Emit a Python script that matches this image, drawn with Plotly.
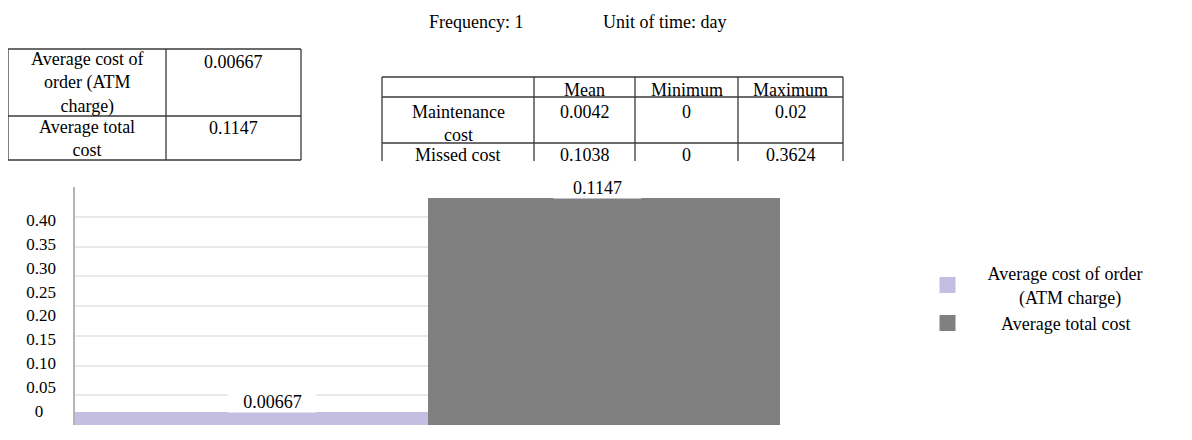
import plotly.graph_objects as go

# ---------------- data ----------------
categories = ["Average cost of order (ATM charge)", "Average total cost"]
legend_names = ["Average cost of order<br>\u00a0\u00a0\u00a0\u00a0\u00a0\u00a0\u00a0(ATM charge)",
                "\u00a0\u00a0\u00a0Average total cost"]
bar_values = [0.00667, 0.1147]
bar_labels = ["0.00667", "0.1147"]

y_tick_values = [0, 0.05, 0.10, 0.15, 0.20, 0.25, 0.30, 0.35, 0.40]
y_tick_labels = ["0\u2007\u2008", "0.05", "0.10", "0.15", "0.20", "0.25", "0.30", "0.35", "0.40"]

summary_rows = ["Average cost of<br>order (ATM<br>charge)", "Average total<br>cost"]
summary_values = ["0.00667", "0.1147"]

stats_header = ["", "Mean", "Minimum", "Maximum"]
stats_rows = ["Maintenance<br>cost", "Missed cost"]
stats_mean = ["0.0042", "0.1038"]
stats_min = ["0", "0"]
stats_max = ["0.02", "0.3624"]

header_texts = ["Frequency: 1", "Unit of time: day"]

# ---------------- style / layout geometry (screen pixels) ----------------
OFF = 8                      # default page margin of the html body
FW, FH = 1176, 424           # figure size so that figure + body margin fills the window
FONT = "Liberation Serif"
bar_colors = ["#c5bee3", "#808080"]
label_xshift = [21, -6]
line_col = "#3a3a3a"

# table 1 geometry
t1_cols = [8, 166, 301]
t1_rows = [49, 116, 160]
t1_text_y = [[83.4, 61.7], [138.8, 127.7]]
# table 2 geometry
t2_cols = [382, 534, 635, 738, 843]
t2_rows = [77, 97, 143]
t2_bottom = 161
t2_header_y = 89.5
t2_text_y = [[123, 112, 112, 112], [155, 155, 155, 155]]


def px_x(X):
    return (X - OFF) / FW


def px_y(Y):
    return (FH - (Y - OFF)) / FH


fig = go.Figure()

for cat, val, col in zip(categories, bar_values, bar_colors):
    fig.add_trace(go.Bar(x=[cat], y=[val], marker=dict(color=col, line=dict(width=0)),
                         showlegend=False, hoverinfo="skip"))

# legend entries (square swatches)
for name, col in zip(legend_names, bar_colors):
    fig.add_trace(go.Scatter(x=[None], y=[None], mode="markers", name=name,
                             marker=dict(symbol="square", size=16, color=col),
                             hoverinfo="skip"))

# helper trace that carries the labelled value axis
fig.add_trace(go.Scatter(x=categories, y=[None] * len(categories), yaxis="y2",
                         mode="markers", showlegend=False, hoverinfo="skip"))

# value labels on the bars
for cat, val, lab, dx in zip(categories, bar_values, bar_labels, label_xshift):
    fig.add_annotation(x=cat, y=val, xref="x", yref="y", text=lab, showarrow=False,
                       yanchor="bottom", xshift=dx, yshift=-1, bgcolor="white",
                       width=87, height=20, borderpad=0,
                       font=dict(family=FONT, size=18, color="black"))

text_font = dict(family=FONT, size=18, color="black")


def add_line(x0, y0, x1, y1):
    fig.add_shape(type="line", xref="paper", yref="paper",
                  x0=px_x(x0), y0=px_y(y0), x1=px_x(x1), y1=px_y(y1),
                  line=dict(color=line_col, width=1.3))


def add_cell_text(txt, xc, yc):
    fig.add_annotation(x=px_x(xc), y=px_y(yc), xref="paper", yref="paper", text=txt,
                       showarrow=False, xanchor="center", yanchor="middle", align="center",
                       font=text_font)


# ----- table 1 -----
for r in t1_rows:
    add_line(t1_cols[0], r, t1_cols[-1], r)
for c in t1_cols:
    add_line(c, t1_rows[0], c, t1_rows[-1])
t1_centers = [(a + b) / 2 for a, b in zip(t1_cols[:-1], t1_cols[1:])]
for i, (lab, val) in enumerate(zip(summary_rows, summary_values)):
    add_cell_text(lab, t1_centers[0], t1_text_y[i][0])
    add_cell_text(val, t1_centers[1], t1_text_y[i][1])

# ----- table 2 -----
for r in t2_rows:
    add_line(t2_cols[0], r, t2_cols[-1], r)
for c in t2_cols:
    add_line(c, t2_rows[0], c, t2_bottom)
t2_centers = [(a + b) / 2 for a, b in zip(t2_cols[:-1], t2_cols[1:])]
for h, xc in zip(stats_header, t2_centers):
    if h:
        add_cell_text(h, xc, t2_header_y)
for i in range(len(stats_rows)):
    row = [stats_rows[i], stats_mean[i], stats_min[i], stats_max[i]]
    for txt, xc, yc in zip(row, t2_centers, t2_text_y[i]):
        add_cell_text(txt, xc, yc)

# header texts
for txt, xc in zip(header_texts, [476, 664]):
    add_cell_text(txt, xc, 22)

fig.update_layout(
    width=FW, height=FH,
    margin=dict(l=0, r=0, t=0, b=0),
    paper_bgcolor="white", plot_bgcolor="white",
    barmode="relative", bargap=0,
    font=dict(family=FONT, size=18, color="black"),
    showlegend=True,
    legend=dict(x=px_x(907.5), y=px_y(255), xanchor="left", yanchor="top",
                font=dict(family=FONT, size=18, color="black"),
                itemwidth=70, bgcolor="rgba(0,0,0,0)", tracegroupgap=0),
    xaxis=dict(domain=[px_x(75), px_x(780)], showticklabels=False, showgrid=False,
               zeroline=False, showline=False, ticks=""),
    yaxis=dict(domain=[px_y(425), px_y(187)], range=[0, 0.12], dtick=0.015,
               showticklabels=False, showgrid=True, gridcolor="#e9e9e9", gridwidth=2,
               zeroline=False, showline=True, linecolor="#b4b4b4", linewidth=2, ticks=""),
    yaxis2=dict(overlaying="y", side="left", anchor="x",
                range=[-(425 - 411) / 477.5, (411 - 187) / 477.5],
                tickmode="array", tickvals=y_tick_values, ticktext=y_tick_labels,
                showgrid=False, zeroline=False, showline=False, ticks="",
                ticklabelstandoff=18, tickfont=dict(family=FONT, size=17, color="black")),
)

fig.write_html("out.html")
